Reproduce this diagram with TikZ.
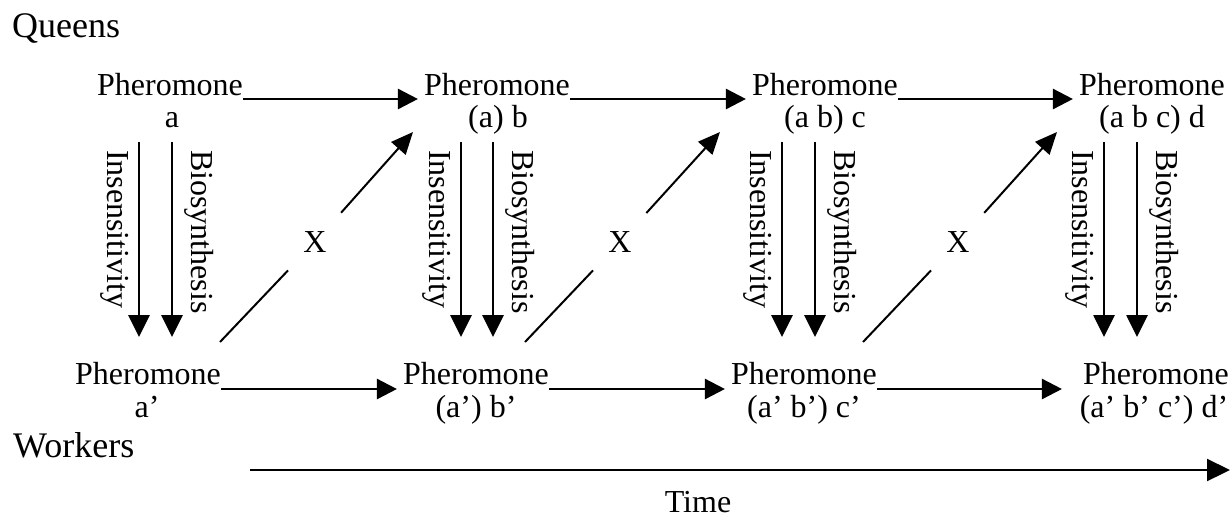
\documentclass[tikz,border=0pt]{standalone}
\usepackage{fontspec}
\setmainfont{Liberation Serif}
\usetikzlibrary{arrows.meta}
\begin{document}
\begin{tikzpicture}[x=1pt,y=-1pt,
  ph/.style={font=\fontsize{32}{36}\selectfont, inner sep=0pt, anchor=base},
  lab/.style={font=\fontsize{32}{36}\selectfont, inner sep=0pt, rotate=-90, anchor=west},
  big/.style={font=\fontsize{36}{40}\selectfont, inner sep=0pt, anchor=base west},
  harrow/.style={line width=2.6pt, -{Triangle[length=20pt,width=20pt]}},
  varrow/.style={line width=2.8pt, -{Triangle[length=22pt,width=21pt]}},
  darrow/.style={line width=2pt, -{Triangle[length=22pt,width=19pt]}},
  tarrow/.style={line width=2.2pt, -{Triangle[length=23pt,width=22pt]}},
  dline/.style={line width=2pt},
  xnode/.style={circle, minimum size=78pt, inner sep=0pt, font=\fontsize{32}{36}\selectfont},
]
\useasboundingbox (0,0) rectangle (1231,520);

% side labels
\node[big] (queens) at (12,37) {Queens};
\node[big] (workers) at (13,457) {Workers};

% queen pheromones
\node[ph] (q1) at (170,95) {Pheromone};
\node[ph] (q1b) at (172,127) {a};
\node[ph] (q2) at (497,95) {Pheromone};
\node[ph] (q2b) at (498,127) {(a) b};
\node[ph] (q3) at (825,95) {Pheromone};
\node[ph] (q3b) at (825,127) {(a b) c};
\node[ph] (q4) at (1152,95) {Pheromone};
\node[ph] (q4b) at (1152,127) {(a b c) d};

% worker pheromones
\node[ph] (w1) at (148,384) {Pheromone};
\node[ph] (w1b) at (147,417) {a'};
\node[ph] (w2) at (476,384) {Pheromone};
\node[ph] (w2b) at (476,417) {(a') b'};
\node[ph] (w3) at (804,384) {Pheromone};
\node[ph] (w3b) at (804,417) {(a' b') c'};
\node[ph] (w4) at (1156,384) {Pheromone};
\node[ph] (w4b) at (1154,417) {(a' b' c') d'};

% horizontal arrows
\draw[harrow] ([yshift=-4pt]q1.base east) -- ([yshift=-4pt,xshift=-6pt]q2.base west);
\draw[harrow] ([yshift=-4pt]q2.base east) -- ([yshift=-4pt,xshift=-6pt]q3.base west);
\draw[harrow] ([yshift=-4pt]q3.base east) -- ([yshift=-4pt,xshift=-6pt]q4.base west);
\draw[harrow] ([yshift=-5pt]w1.base east) -- ([yshift=-5pt,xshift=-6pt]w2.base west);
\draw[harrow] ([yshift=-5pt]w2.base east) -- ([yshift=-5pt,xshift=-6pt]w3.base west);
\draw[harrow] ([yshift=-5pt]w3.base east) -- ([yshift=-5pt,xshift=-21pt]w4.base west);

% vertical arrows with labels
\foreach \i/\xa/\xb in {1/139/172, 2/461/493, 3/782/815, 4/1104/1137} {
  \coordinate (ia\i) at (\xa,142);
  \coordinate (iz\i) at (\xa,337);
  \coordinate (ba\i) at (\xb,142);
  \coordinate (bz\i) at (\xb,337);
  \draw[varrow] (ia\i) -- (iz\i);
  \draw[varrow] (ba\i) -- (bz\i);
  \node[lab] (ins\i) at (\xa-24,150) {Insensitivity};
  \node[lab] (bio\i) at (\xb+27,150) {Biosynthesis};
}

% diagonal arrows with X
\foreach \i/\sx/\xx/\ex in {1/220/315/413, 2/525/620/720, 3/863/958/1057} {
  \coordinate (s\i) at (\sx,342);
  \node[xnode] (x\i) at (\xx,242) {X};
  \coordinate (e\i) at (\ex,132);
  \draw[dline] (s\i) -- (x\i);
  \draw[darrow] (x\i) -- (e\i);
}

% time axis
\coordinate (t0) at (250,470);
\coordinate (t1) at (1230,470);
\draw[tarrow] (t0) -- (t1);
\node[ph] (time) at (698,512) {Time};
\end{tikzpicture}
\end{document}
